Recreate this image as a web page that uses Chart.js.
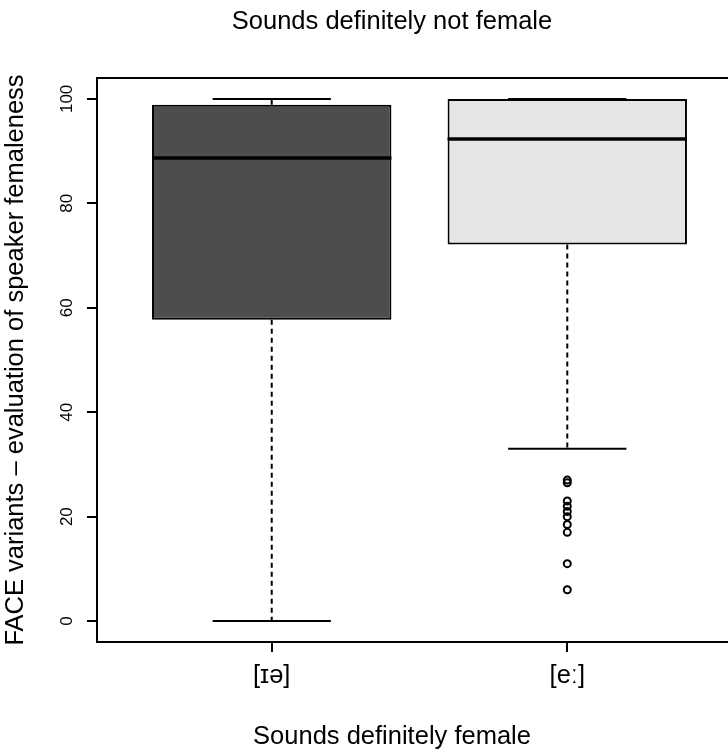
<!DOCTYPE html>
<html>
<head>
<meta charset="utf-8">
<script src="https://cdn.jsdelivr.net/npm/chart.js@4.4.1/dist/chart.umd.min.js"></script>
<style>
    html, body { margin: 0; padding: 0; background: #fff; overflow: hidden; }
    canvas { display: block; }
</style>
</head>
<body>
<canvas id="boxplot" width="784" height="753"></canvas>
<script>
// box statistics
const variants = ['[ɪə]', '[eː]'];
const q1 = [57.7, 72.1];
const medians = [88.7, 92.3];
const q3 = [98.9, 100];
const whiskerLow = [0, 33];
const whiskerHigh = [100, 100];
const outliersE = [27, 26.5, 23, 22, 21, 20, 18.5, 17, 11, 6];
const yTicks = [0, 20, 40, 60, 80, 100];
const boxColors = ['#4d4d4d', '#e5e5e5'];

Chart.defaults.font.family = '"Liberation Sans", Arial, sans-serif';
Chart.defaults.color = '#000';

// medians, whiskers, caps, frame and rotated y labels
const boxExtras = {
    id: 'boxExtras',
    afterDatasetsDraw(chart) {
        const ctx = chart.ctx;
        const x = chart.scales.x;
        const y = chart.scales.y;
        const area = chart.chartArea;
        ctx.save();
        ctx.strokeStyle = '#000';
        variants.forEach((v, i) => {
            const cx = x.getPixelForValue(i + 1);
            const half = x.getPixelForValue(i + 1.2) - cx;
            const boxHalf = x.getPixelForValue(i + 1.405) - cx;

            // whiskers
            ctx.lineWidth = 2;
            ctx.setLineDash([5, 4]);
            ctx.beginPath();
            ctx.moveTo(cx, y.getPixelForValue(q1[i]));
            ctx.lineTo(cx, y.getPixelForValue(whiskerLow[i]));
            ctx.moveTo(cx, y.getPixelForValue(q3[i]));
            ctx.lineTo(cx, y.getPixelForValue(whiskerHigh[i]));
            ctx.stroke();

            // caps
            ctx.setLineDash([]);
            ctx.beginPath();
            [whiskerLow[i], whiskerHigh[i]].forEach(w => {
                const py = y.getPixelForValue(w);
                ctx.moveTo(cx - half, py);
                ctx.lineTo(cx + half, py);
            });
            ctx.stroke();

            // median
            ctx.lineWidth = 3.5;
            ctx.beginPath();
            const my = y.getPixelForValue(medians[i]);
            ctx.moveTo(cx - boxHalf, my);
            ctx.lineTo(cx + boxHalf, my);
            ctx.stroke();
        });

        // frame round the plot
        ctx.lineWidth = 2;
        ctx.strokeRect(area.left, area.top, area.right - area.left, area.bottom - area.top);

        // y tick labels, written along the axis
        ctx.fillStyle = '#000';
        ctx.font = '17px "Liberation Sans", Arial, sans-serif';
        ctx.textAlign = 'center';
        ctx.textBaseline = 'middle';
        yTicks.forEach(t => {
            ctx.save();
            ctx.translate(67, y.getPixelForValue(t));
            ctx.rotate(-Math.PI / 2);
            ctx.fillText(String(t), 0, 0);
            ctx.restore();
        });
        ctx.restore();
    }
};

const ctx = document.getElementById('boxplot').getContext('2d');
new Chart(ctx, {
    type: 'bar',
    data: {
        datasets: [{
            type: 'bar',
            data: variants.map((v, i) => ({ x: i + 1, y: [q1[i], q3[i]] })),
            backgroundColor: boxColors,
            borderColor: '#000',
            borderWidth: 2,
            borderSkipped: false,
            barPercentage: 0.81,
            categoryPercentage: 1
        }, {
            type: 'scatter',
            data: outliersE.map(v => ({ x: 2, y: v })),
            pointStyle: 'circle',
            pointRadius: 3.5,
            borderColor: '#000',
            borderWidth: 2,
            backgroundColor: 'rgba(0,0,0,0)'
        }]
    },
    options: {
        responsive: false,
        animation: false,
        layout: { padding: 0 },
        scales: {
            x: {
                type: 'linear',
                offset: false,
                min: 0.4088,
                max: 2.713,
                afterBuildTicks: scale => { scale.ticks = variants.map((v, i) => ({ value: i + 1 })); },
                ticks: {
                    callback: value => variants[value - 1],
                    font: { size: 25.5 },
                    color: '#000',
                    padding: 9,
                    maxRotation: 0
                },
                grid: { offset: false, drawOnChartArea: false, drawTicks: true, tickLength: 10, color: '#000', lineWidth: 2 },
                border: { display: true, color: '#000', width: 2 }
            },
            y: {
                min: -4,
                max: 104,
                afterBuildTicks: scale => { scale.ticks = yTicks.map(t => ({ value: t })); },
                afterFit: scale => { scale.width = 97; },
                ticks: { display: false },
                grid: { drawOnChartArea: false, drawTicks: true, tickLength: 10, color: '#000', lineWidth: 2 },
                border: { display: true, color: '#000', width: 2 },
                title: {
                    display: true,
                    text: 'FACE variants – evaluation of speaker femaleness',
                    font: { size: 25.5 },
                    color: '#000',
                    padding: { top: 1, bottom: 0 }
                }
            }
        },
        plugins: {
            legend: { display: false },
            tooltip: { enabled: false },
            title: {
                display: true,
                text: 'Sounds definitely not female',
                font: { size: 25.5, weight: 'normal' },
                color: '#000',
                padding: { top: 7, bottom: 40.4 }
            },
            subtitle: {
                display: true,
                position: 'bottom',
                text: 'Sounds definitely female',
                font: { size: 25.5, weight: 'normal' },
                color: '#000',
                padding: { top: 20.8, bottom: 1 }
            }
        }
    },
    plugins: [boxExtras]
});
</script>
</body>
</html>
